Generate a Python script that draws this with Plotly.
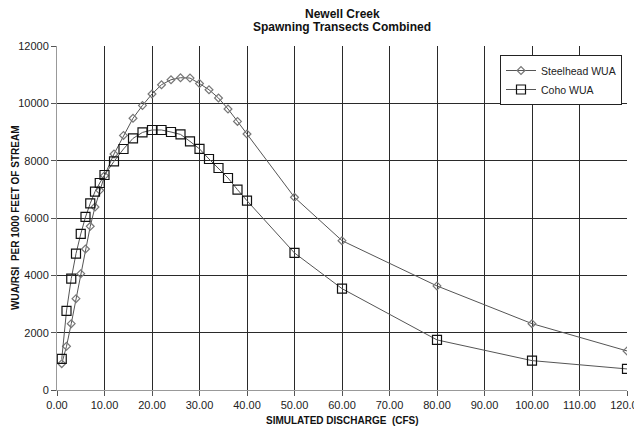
import plotly.graph_objects as go

discharge = [1, 2, 3, 4, 5, 6, 7, 8, 9, 10, 12, 14, 16, 18, 20, 22, 24, 26, 28,
             30, 32, 34, 36, 38, 40, 50, 60, 80, 100, 120]
steelhead_wua = [920, 1524, 2315, 3187, 4059, 4920, 5708, 6385, 6964, 7476, 8233,
                 8882, 9480, 9928, 10325, 10649, 10823, 10893, 10882, 10690,
                 10475, 10185, 9802, 9370, 8930, 6720, 5210, 3630, 2315, 1363]
coho_wua = [1085, 2758, 3885, 4756, 5443, 6036, 6510, 6918, 7221, 7500, 7975,
            8407, 8777, 8986, 9070, 9070, 9000, 8916, 8672, 8410, 8058, 7745,
            7396, 6988, 6604, 4780, 3536, 1747, 1025, 735]
x_ticks = [0, 10, 20, 30, 40, 50, 60, 70, 80, 90, 100, 110, 120]
y_ticks = [0, 2000, 4000, 6000, 8000, 10000, 12000]

font = "Liberation Sans, Arial, sans-serif"

# page body has an 8px margin; size the figure so the plot area lands where the reference has it
W, H = 634, 421
ML, MT, MR, MB = 49, 38, 15, 39
pw = W - ML - MR
ph = H - MT - MB

fig = go.Figure()
fig.add_trace(go.Scatter(
    x=discharge, y=steelhead_wua, name="Steelhead WUA", mode="lines+markers",
    line=dict(color="#555555", width=1),
    marker=dict(symbol="diamond-open", size=6, color="#777777", line=dict(width=1.2)),
))
fig.add_trace(go.Scatter(
    x=discharge, y=coho_wua, name="Coho WUA", mode="lines+markers",
    line=dict(color="#555555", width=1),
    marker=dict(symbol="square-open", size=9, color="#111111", line=dict(width=1.2)),
))

fig.update_layout(
    width=W, height=H,
    margin=dict(l=ML, r=MR, t=MT, b=MB, autoexpand=False),
    paper_bgcolor="white", plot_bgcolor="white",
    font=dict(family=font, size=11, color="#222222"),
    showlegend=True,
    legend=dict(x=(500 - 57) / pw, y=1 - (55 - 46) / ph, xanchor="left", yanchor="top",
                bgcolor="white", bordercolor="#222222", borderwidth=1,
                font=dict(family=font, size=10.5, color="#222222"),
                tracegroupgap=0, itemwidth=30),
    annotations=[
        dict(text="<b>Newell Creek</b>", x=0.5, xref="paper", xanchor="center",
             y=1 + (46 - 14) / ph, yref="paper", yanchor="middle", showarrow=False,
             font=dict(family=font, size=12, color="#111111")),
        dict(text="<b>Spawning Transects Combined</b>", x=0.5, xref="paper",
             xanchor="center", y=1 + (46 - 27) / ph, yref="paper", yanchor="middle",
             showarrow=False, font=dict(family=font, size=12, color="#111111")),
        dict(text="<b>WUA/RSI  PER 1000 FEET OF STREAM</b>", textangle=-90,
             x=-(57 - 15) / pw, xref="paper", xanchor="center", y=0.5, yref="paper",
             yanchor="middle", showarrow=False,
             font=dict(family=font, size=10, color="#111111")),
        dict(text="<b>SIMULATED DISCHARGE  (CFS)</b>", x=0.5, xref="paper",
             xanchor="center", y=-(420 - 390) / ph, yref="paper", yanchor="middle",
             showarrow=False, font=dict(family=font, size=10, color="#111111")),
    ],
)

fig.update_xaxes(
    range=[0, 120], tickvals=x_ticks,
    ticktext=[f"{v:.2f}" for v in x_ticks],
    showgrid=True, gridcolor="#2a2a2a", gridwidth=1,
    showline=True, linecolor="#999999", linewidth=1,
    ticks="outside", ticklen=5, tickcolor="#555555",
    zeroline=False, automargin=False, ticklabeloverflow="allow",
    tickfont=dict(size=11),
)
fig.update_yaxes(
    range=[0, 12000], tickvals=y_ticks, ticktext=[str(v) for v in y_ticks],
    showgrid=True, gridcolor="#2a2a2a", gridwidth=1,
    showline=True, linecolor="#999999", linewidth=1,
    ticks="outside", ticklen=5, tickcolor="#555555",
    zeroline=False, automargin=False,
    tickfont=dict(size=11),
)

fig.write_html("out.html")
